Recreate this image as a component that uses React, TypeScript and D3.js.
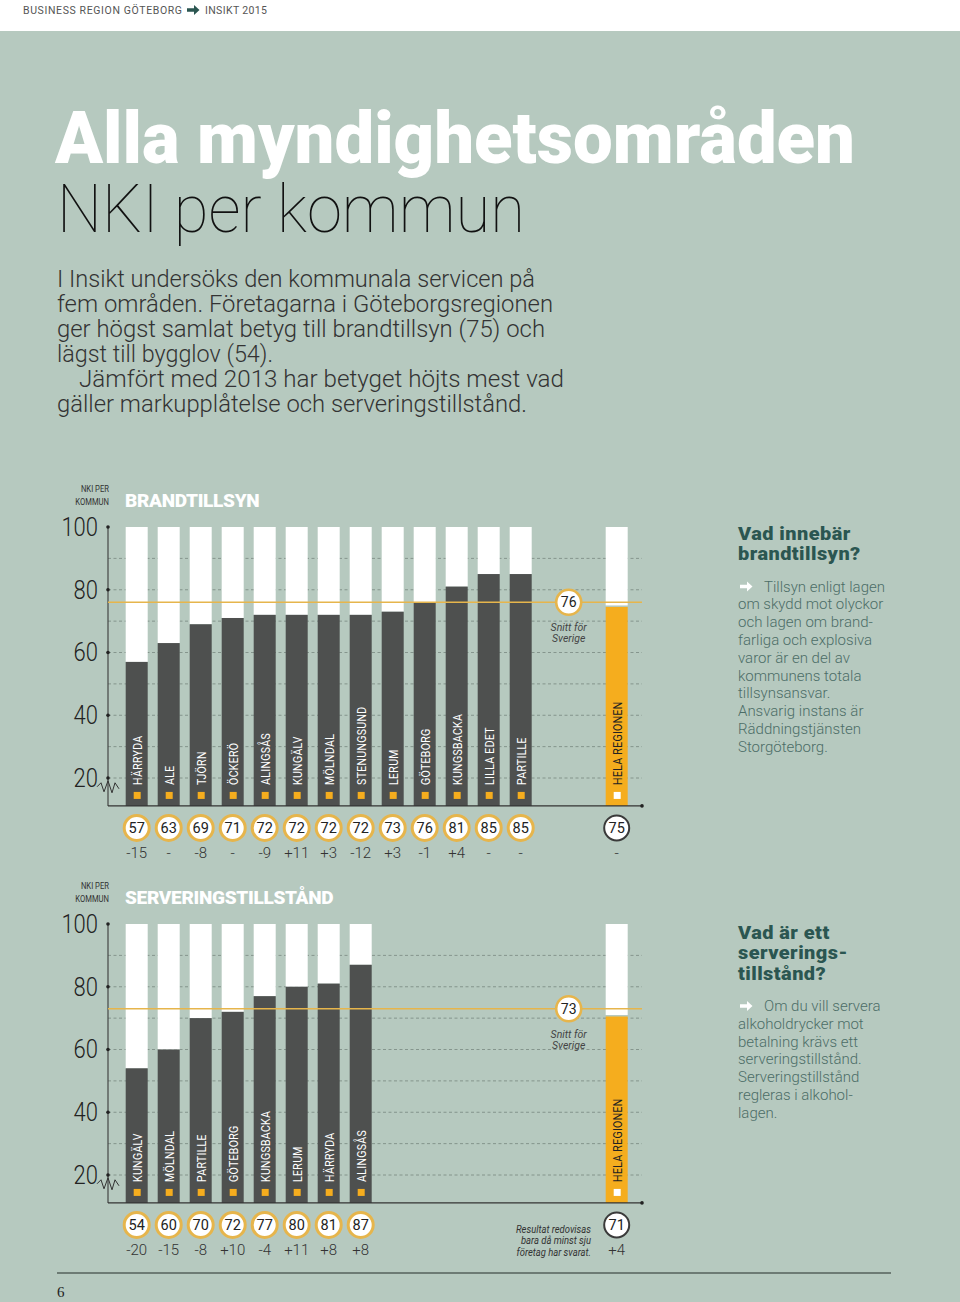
import React from 'react'
import * as d3 from 'd3'

// --- data ---
const brandNames = ['HÄRRYDA', 'ALE', 'TJÖRN', 'ÖCKERÖ', 'ALINGSÅS', 'KUNGÄLV', 'MÖLNDAL', 'STENUNGSUND', 'LERUM', 'GÖTEBORG', 'KUNGSBACKA', 'LILLA EDET', 'PARTILLE']
const brandValues = [57, 63, 69, 71, 72, 72, 72, 72, 73, 76, 81, 85, 85]
const brandChanges = ['-15', '-', '-8', '-', '-9', '+11', '+3', '-12', '+3', '-1', '+4', '-', '-']
const brandSweden = 76
const brandRegion = 75
const brandRegionChange = '-'

const servNames = ['KUNGÄLV', 'MÖLNDAL', 'PARTILLE', 'GÖTEBORG', 'KUNGSBACKA', 'LERUM', 'HÄRRYDA', 'ALINGSÅS']
const servValues = [54, 60, 70, 72, 77, 80, 81, 87]
const servChanges = ['-20', '-15', '-8', '+10', '-4', '+11', '+8', '+8']
const servSweden = 73
const servRegion = 71
const servRegionChange = '+4'

const yTicks = [20, 40, 60, 80, 100]
const gridValues = [20, 30, 40, 50, 60, 70, 80, 90]

const BG = '#b6c9bf'
const DARK = '#4e504f'
const ORANGE = '#f5ad1e'
const AVG = '#e6b54c'
const TEAL = '#2b5651'
const SIDE = '#4c6d67'
const FONT = 'Roboto, "Open Sans", sans-serif'

// 16 slots: 13 municipalities, a gap, the whole region in slot 15
const x = d3.scaleBand<number>()
  .domain(d3.range(16))
  .range([120.7, 120.7 + 16 * 32])
  .paddingInner(0.3125)
  .paddingOuter(0.15625)

const AXIS_X = 108
const AXIS_END = 642

function Arrow({ x0, y0, fill }: { x0: number, y0: number, fill: string }) {
  return (
    <path
      transform={`translate(${x0},${y0})`}
      d="M0,-1.8 L7,-1.8 L7,-5 L12.5,0 L7,5 L7,1.8 L0,1.8 Z"
      fill={fill}
    />
  )
}

function Panel({ top, title, names, values, changes, sweden, region, regionChange, footnote }:
  { top: number, title: string, names: string[], values: number[], changes: string[], sweden: number, region: number, regionChange: string, footnote?: string[] }) {
  const y = d3.scaleLinear().domain([20, 100]).range([top + 251, top])
  const base = y(11.1)
  const bw = x.bandwidth()
  const cx = (i: number) => (x(i) as number) + bw / 2
  const regionX = cx(15)
  const avgX = (cx(13) + cx(14)) / 2
  const circleY = base + 22
  const changeY = base + 52
  const zz = y(17.2)

  return (
    <g>
      <text x={109} y={top - 35} textAnchor="end" fontFamily={FONT} fontSize={9} fill="#333" transform={`translate(109,0) scale(0.85,1) translate(-109,0)`}>NKI PER</text>
      <text x={109} y={top - 22} textAnchor="end" fontFamily={FONT} fontSize={9} fill="#333" transform={`translate(109,0) scale(0.85,1) translate(-109,0)`}>KOMMUN</text>
      <text x={125} y={top - 20} fontFamily={FONT} fontWeight={900} fontSize={19} fill="#fff" letterSpacing={-0.3}>{title}</text>

      {/* dashed grid */}
      {gridValues.map(v => (
        <line key={v} x1={AXIS_X} x2={AXIS_END} y1={y(v)} y2={y(v)} stroke="#7f8e87" strokeWidth={0.9} strokeDasharray="3,2.5" />
      ))}

      {/* y axis */}
      <line x1={AXIS_X} x2={AXIS_X} y1={y(100)} y2={base} stroke="#3a3a3a" strokeWidth={1.1} />
      {yTicks.map(t => (
        <g key={t}>
          <circle cx={AXIS_X} cy={y(t)} r={1.8} fill="#222" />
          <text x={98} y={y(t) + 9} textAnchor="end" fontFamily={FONT} fontWeight={300} fontSize={25} fill="#222"
            transform={`translate(98,0) scale(0.88,1) translate(-98,0)`}>{t}</text>
        </g>
      ))}
      <path d={`M97,${zz} L101,${zz - 4} L104,${zz + 5} L108,${zz - 6} L112,${zz + 6} L115,${zz - 4} L119,${zz + 2}`} fill="none" stroke="#333" strokeWidth={1} />

      {/* bars */}
      {values.map((v, i) => (
        <g key={names[i]}>
          <rect x={x(i)} width={bw} y={y(100)} height={y(v) - y(100)} fill="#fff" />
          <rect x={x(i)} width={bw} y={y(v)} height={base - y(v)} fill={DARK} />
          <rect x={cx(i) - 3} y={base - 14} width={7} height={7} fill={ORANGE} />
          <text transform={`translate(${cx(i) + 5},${base - 21}) rotate(-90) scale(0.78,1)`} fontFamily={FONT} fontSize={13.5} fill="#fff" letterSpacing={0.4}>{names[i]}</text>
        </g>
      ))}

      {/* whole region */}
      <rect x={x(15)} width={bw} y={y(100)} height={y(region) - y(100)} fill="#fff" />
      <rect x={x(15)} width={bw} y={y(region) + 1.5} height={base - y(region) - 1.5} fill={ORANGE} />
      <rect x={regionX - 3} y={base - 14} width={7} height={7} fill="#fff" />
      <text transform={`translate(${regionX + 5},${base - 21}) rotate(-90) scale(0.78,1)`} fontFamily={FONT} fontSize={13.5} fill="#222" letterSpacing={0.4}>HELA REGIONEN</text>

      {/* base axis */}
      <line x1={AXIS_X} x2={AXIS_END} y1={base} y2={base} stroke="#333" strokeWidth={1.4} />
      <circle cx={AXIS_END} cy={base} r={1.8} fill="#222" />

      {/* Sweden average */}
      <line x1={AXIS_X} x2={AXIS_END} y1={y(sweden)} y2={y(sweden)} stroke={AVG} strokeWidth={1.6} />
      <circle cx={avgX} cy={y(sweden)} r={12.5} fill="#fff" stroke={AVG} strokeWidth={2.6} />
      <text x={avgX} y={y(sweden) + 5} textAnchor="middle" fontFamily={FONT} fontSize={14} fill="#222">{sweden}</text>
      <text x={avgX} y={y(sweden) + 29} textAnchor="middle" fontFamily={FONT} fontStyle="italic" fontSize={10.5} fill="#444">Snitt för</text>
      <text x={avgX} y={y(sweden) + 40} textAnchor="middle" fontFamily={FONT} fontStyle="italic" fontSize={10.5} fill="#444">Sverige</text>

      {/* value circles + changes */}
      {values.map((v, i) => (
        <g key={'c' + i}>
          <circle cx={cx(i)} cy={circleY} r={12.5} fill="#fff" stroke={AVG} strokeWidth={3} />
          <text x={cx(i)} y={circleY + 5} textAnchor="middle" fontFamily={FONT} fontSize={14.5} fill="#222">{v}</text>
          <text x={cx(i)} y={changeY} textAnchor="middle" fontFamily={FONT} fontWeight={300} fontSize={15} fill="#333">{changes[i]}</text>
        </g>
      ))}
      <circle cx={regionX} cy={circleY} r={12.5} fill="#fff" stroke="#3a3a3a" strokeWidth={2} />
      <text x={regionX} y={circleY + 5} textAnchor="middle" fontFamily={FONT} fontSize={14.5} fill="#222">{region}</text>
      <text x={regionX} y={changeY} textAnchor="middle" fontFamily={FONT} fontWeight={300} fontSize={15} fill="#333">{regionChange}</text>

      {footnote && footnote.map((t, i) => (
        <text key={t} x={591} y={base + 30 + i * 11.5} textAnchor="end" fontFamily={FONT} fontStyle="italic" fontSize={10.5} fill="#333"
          transform={`translate(591,0) scale(0.9,1) translate(-591,0)`}>{t}</text>
      ))}
    </g>
  )
}

function SideNote({ top, heading, lines }: { top: number, heading: string[], lines: string[] }) {
  const lead = 20.5
  const bodyTop = top + (heading.length - 1) * lead + 31
  return (
    <g>
      {heading.map((h, i) => (
        <text key={h} x={738} y={top + i * lead} fontFamily={FONT} fontWeight={900} fontSize={17.5} letterSpacing={0.4} fill={TEAL}
          transform={`translate(738,0) scale(1.14,1) translate(-738,0)`}>{h}</text>
      ))}
      <Arrow x0={740} y0={bodyTop - 5} fill="#fff" />
      {lines.map((l, i) => (
        <text key={l} x={i === 0 ? 764 : 738} y={bodyTop + i * 17.8} fontFamily={FONT} fontWeight={300} fontSize={15} fill={SIDE}>{l}</text>
      ))}
    </g>
  )
}

const intro = [
  'I Insikt undersöks den kommunala servicen på',
  'fem områden. Företagarna i Göteborgsregionen',
  'ger högst samlat betyg till brandtillsyn (75) och',
  'lägst till bygglov (54).',
  'Jämfört med 2013 har betyget höjts mest vad',
  'gäller markupplåtelse och serveringstillstånd.',
]
const introWidths = [478, 496, 488, 216, 485, 470]

export default function App() {
  return (
    <svg width={960} height={1302} style={{ position: 'absolute', left: 0, top: 0 }}>
      <rect width={960} height={1302} fill={BG} />
      <rect width={960} height={31} fill="#fff" />
      <text x={23} y={14} fontFamily={FONT} fontSize={10.5} fill="#555" textLength={159} lengthAdjust="spacing">BUSINESS REGION GÖTEBORG</text>
      <Arrow x0={187} y0={10} fill={TEAL} />
      <text x={205} y={14} fontFamily={FONT} fontSize={10.5} fill="#555" textLength={62} lengthAdjust="spacing">INSIKT 2015</text>

      <text x={55} y={163} fontFamily={FONT} fontWeight={900} fontSize={72} fill="#fff" textLength={800} lengthAdjust="spacingAndGlyphs">Alla myndighetsområden</text>
      <text x={57} y={232} fontFamily={FONT} fontWeight={100} fontSize={66} fill="#111" textLength={468} lengthAdjust="spacingAndGlyphs">NKI per kommun</text>
      {intro.map((l, i) => (
        <text key={l} x={i === 4 ? 79 : 57} y={287 + i * 25} fontFamily={FONT} fontWeight={300} fontSize={23} fill="#333"
          textLength={introWidths[i]} lengthAdjust="spacingAndGlyphs">{l}</text>
      ))}

      <Panel top={527} title="BRANDTILLSYN" names={brandNames} values={brandValues} changes={brandChanges}
        sweden={brandSweden} region={brandRegion} regionChange={brandRegionChange} />
      <SideNote top={540} heading={['Vad innebär', 'brandtillsyn?']}
        lines={['Tillsyn enligt lagen', 'om skydd mot olyckor', 'och lagen om brand-', 'farliga och explosiva', 'varor är en del av', 'kommunens totala', 'tillsynsansvar.', 'Ansvarig instans är', 'Räddningstjänsten', 'Storgöteborg.']} />

      <Panel top={924} title="SERVERINGSTILLSTÅND" names={servNames} values={servValues} changes={servChanges}
        sweden={servSweden} region={servRegion} regionChange={servRegionChange}
        footnote={['Resultat redovisas', 'bara då minst sju', 'företag har svarat.']} />
      <SideNote top={939} heading={['Vad är ett', 'serverings-', 'tillstånd?']}
        lines={['Om du vill servera', 'alkoholdrycker mot', 'betalning krävs ett', 'serveringstillstånd.', 'Serveringstillstånd', 'regleras i alkohol-', 'lagen.']} />

      <line x1={57} x2={891} y1={1273} y2={1273} stroke="#55615b" strokeWidth={1.5} />
      <text x={57} y={1297} fontFamily="'Liberation Serif', serif" fontSize={15} fill="#222">6</text>
    </svg>
  )
}
